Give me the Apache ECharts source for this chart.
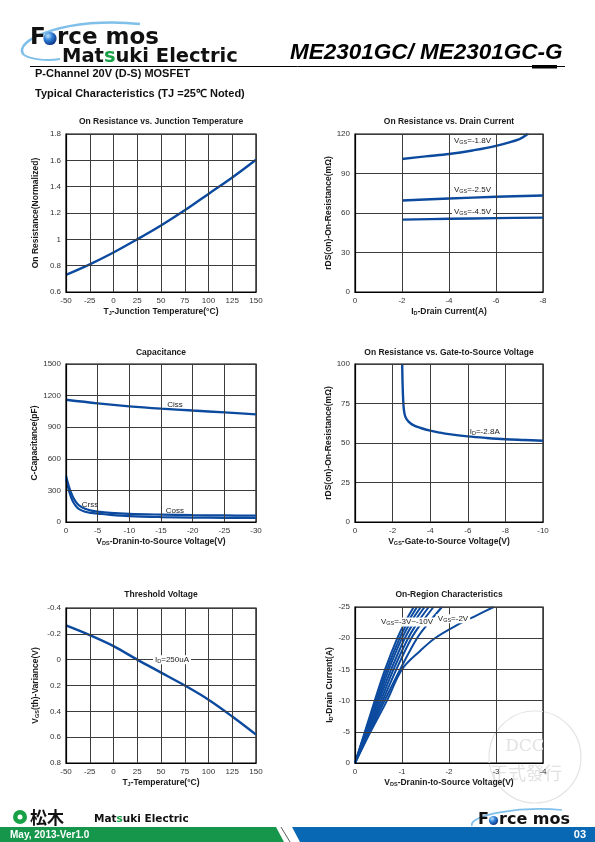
<!DOCTYPE html>
<html><head><meta charset="utf-8">
<script src="https://cdn.jsdelivr.net/npm/echarts@6/dist/echarts.min.js"></script>
<style>html,body{margin:0;padding:0;background:#fff}#c{width:595px;height:842px}</style>
</head><body><div id="c"></div><script>
// ---------- data ----------
// Chart 1: On Resistance vs Junction Temperature
const tjTemp = [-50, -25, 0, 25, 50, 75, 100, 125, 150];
const rdsNorm = [0.73, 0.81, 0.90, 1.0, 1.105, 1.22, 1.345, 1.47, 1.605];
// Chart 2: On Resistance vs Drain Current
const idVgs18 = [-2, -3, -4, -5, -6, -7, -7.35];
const rdsVgs18 = [101, 103, 104.8, 107.5, 111, 116.2, 120];
const idVgsOther = [-2, -4, -6, -8];
const rdsVgs25 = [69.5, 71, 72.3, 73.3];
const rdsVgs45 = [55, 55.6, 56.1, 56.5];
// Chart 3: Capacitance
const vdsCiss = [0, -5, -10, -15, -20, -25, -30];
const ciss = [1160, 1126, 1098, 1076, 1058, 1041, 1022];
const vdsLow = [0, -0.5, -1, -1.5, -2, -3, -4, -5, -7, -10, -15, -20, -25, -30];
const coss = [440, 330, 250, 195, 160, 125, 108, 98, 86, 77, 70, 65, 62, 60];
const crss = [410, 290, 205, 155, 125, 98, 86, 80, 68, 56, 47, 42, 40, 38];
// Chart 4: On Resistance vs Gate-to-Source Voltage
const vgsSweep = [-2.51, -2.53, -2.56, -2.6, -2.68, -2.85, -3.1, -3.5, -4, -4.5, -5, -6, -7, -8, -9, -10];
const rdsId28 = [100, 88, 78, 71, 66.5, 63.5, 61.3, 59.5, 57.8, 56.6, 55.6, 54.2, 53.2, 52.4, 51.9, 51.4];
// Chart 5: Threshold Voltage
const vthVar = [-0.265, -0.19, -0.105, 0.0, 0.1, 0.2, 0.31, 0.44, 0.58];
// Chart 6: On-Region Characteristics
const idLevels = [0, -5, -10, -15, -20, -22.5, -25];
const vdsC1 = [0, -0.21, -0.42, -0.64, -0.9, -1.06, -1.25];
const vdsC2 = [0, -0.22, -0.45, -0.68, -0.95, -1.12, -1.32];
const vdsC3 = [0, -0.23, -0.48, -0.72, -1.0, -1.18, -1.40];
const vdsC4 = [0, -0.25, -0.51, -0.77, -1.06, -1.25, -1.48];
const vdsC5 = [0, -0.27, -0.55, -0.82, -1.13, -1.33, -1.57];
const vdsC6 = [0, -0.29, -0.59, -0.88, -1.2, -1.42, -1.67];
const vdsVgs3 = [0, -0.31, -0.63, -0.96, -1.32, -1.57, -1.85];
const vdsVgs2 = [0, -0.33, -0.68, -1.0, -1.39, -1.7, -2.17, -2.6, -2.95];
const idVgs2 = [0, -5, -10, -15, -18, -20, -22.1, -23.7, -25];

// ---------- helpers ----------
const zip = (xs, ys) => xs.map((x, i) => [x, ys[i]]);
const BLUE = '#0b4a9e';
const FF = '"Liberation Sans", Arial, sans-serif';
const richName = {
  n: {fontSize: 8.5, fontWeight: 'bold', color: '#1a1a1a', fontFamily: FF},
  s: {fontSize: 5.5, fontWeight: 'bold', color: '#1a1a1a', fontFamily: FF, verticalAlign: 'bottom', padding: [3, 0, 0, 0]}
};
const richLab = {
  n: {fontSize: 8, color: '#222', fontFamily: FF},
  s: {fontSize: 5.5, color: '#222', fontFamily: FF, padding: [3, 0, 0, 0]}
};
const grids = [
  {left: 66, top: 134, width: 190, height: 158},
  {left: 355, top: 134, width: 188, height: 158},
  {left: 66, top: 364, width: 190, height: 158},
  {left: 355, top: 364, width: 188, height: 158},
  {left: 66, top: 608, width: 190, height: 155},
  {left: 355, top: 607, width: 188, height: 156}
].map(g => Object.assign({show: true, borderColor: '#000', borderWidth: 1.2, containLabel: false}, g));

function axis(gi, min, max, interval, inverse, name, gap) {
  return {
    type: 'value', gridIndex: gi, min, max, interval, inverse, z: 5,
    axisLine: {show: true, onZero: false, lineStyle: {color: '#000', width: 1.2}},
    axisTick: {show: false},
    axisLabel: {color: '#333', fontSize: 8, fontFamily: FF, margin: 5,
      formatter: v => String(Math.round(v * 1000) / 1000)},
    splitLine: {show: true, lineStyle: {color: '#3c3c3c', width: 1}},
    name, nameLocation: 'middle', nameGap: gap,
    nameTextStyle: {fontSize: 8.5, fontWeight: 'bold', color: '#1a1a1a', fontFamily: FF, rich: richName}
  };
}
const xAxes = [
  axis(0, -50, 150, 25, false, '{n|T}{s|J}{n|-Junction Temperature(°C)}', 15),
  axis(1, -8, 0, 2, true, '{n|I}{s|D}{n|-Drain Current(A)}', 15),
  axis(2, -30, 0, 5, true, '{n|V}{s|DS}{n|-Dranin-to-Source Voltage(V)}', 15),
  axis(3, -10, 0, 2, true, '{n|V}{s|GS}{n|-Gate-to-Source Voltage(V)}', 15),
  axis(4, -50, 150, 25, false, '{n|T}{s|J}{n|-Temperature(°C)}', 15),
  axis(5, -4, 0, 1, true, '{n|V}{s|DS}{n|-Dranin-to-Source Voltage(V)}', 15)
];
const yAxes = [
  axis(0, 0.6, 1.8, 0.2, false, '{n|On Resistance(Normalized)}', 26),
  axis(1, 0, 120, 30, false, '{n|rDS(on)-On-Resistance(mΩ)}', 21),
  axis(2, 0, 1500, 300, false, '{n|C-Capacitance(pF)}', 26),
  axis(3, 0, 100, 25, false, '{n|rDS(on)-On-Resistance(mΩ)}', 21),
  axis(4, -0.4, 0.8, 0.2, true, '{n|V}{s|GS}{n|(th)-Variance(V)}', 26),
  axis(5, -25, 0, 5, true, '{n|I}{s|D}{n|-Drain Current(A)}', 21)
];
function line(gi, data, width, marks) {
  const s = {
    type: 'line', xAxisIndex: gi, yAxisIndex: gi, data, smooth: 0.35, showSymbol: false,
    lineStyle: {color: BLUE, width: width || 2.4}, silent: true, animation: false, z: 3
  };
  if (marks) {
    s.markPoint = {
      symbol: 'circle', symbolSize: 0, silent: true, animation: false,
      data: marks.map(m => ({
        coord: m.c,
        label: {show: true, position: 'inside', formatter: m.t, rich: richLab,
          backgroundColor: m.bg ? '#fff' : 'transparent', padding: m.bg ? [0, 2] : 0}
      }))
    };
  }
  return s;
}
const series = [
  line(0, zip(tjTemp, rdsNorm), 2.4),
  line(1, zip(idVgs18, rdsVgs18), 2.4, [{c: [-5, 114.7], t: '{n|V}{s|GS}{n|=-1.8V}'}]),
  line(1, zip(idVgsOther, rdsVgs25), 2.4, [{c: [-5, 77.5], t: '{n|V}{s|GS}{n|=-2.5V}'}]),
  line(1, zip(idVgsOther, rdsVgs45), 2.4, [{c: [-5, 60.8], t: '{n|V}{s|GS}{n|=-4.5V}', bg: true}]),
  line(2, zip(vdsCiss, ciss), 2.4, [{c: [-17.2, 1111], t: '{n|Ciss}'}]),
  line(2, zip(vdsLow, coss), 2.2, [{c: [-17.2, 107], t: '{n|Coss}'}]),
  line(2, zip(vdsLow, crss), 2.2, [{c: [-3.8, 162], t: '{n|Crss}'}]),
  line(3, zip(vgsSweep, rdsId28), 2.4, [{c: [-6.9, 56.8], t: '{n|I}{s|D}{n|=-2.8A}'}]),
  line(4, zip(tjTemp, vthVar), 2.4, [{c: [61.6, 0], t: '{n|I}{s|D}{n|=250uA}', bg: true}]),
  line(5, zip(vdsC1, idLevels), 2),
  line(5, zip(vdsC2, idLevels), 2),
  line(5, zip(vdsC3, idLevels), 2),
  line(5, zip(vdsC4, idLevels), 2),
  line(5, zip(vdsC5, idLevels), 2),
  line(5, zip(vdsC6, idLevels), 2),
  line(5, zip(vdsVgs3, idLevels), 2),
  line(5, zip(vdsVgs2, idVgs2), 2, [
    {c: [-1.106, -22.6], t: '{n|V}{s|GS}{n|=-3V~-10V}', bg: true},
    {c: [-2.085, -23.1], t: '{n|V}{s|GS}{n|=-2V}', bg: true}
  ])
];
const titleDefs = [
  ['On Resistance vs. Junction Temperature', 161, 117],
  ['On Resistance vs. Drain Current', 449, 117],
  ['Capacitance', 161, 348],
  ['On Resistance vs. Gate-to-Source Voltage', 449, 348],
  ['Threshold Voltage', 161, 590],
  ['On-Region Characteristics', 449, 590]
];
const titles = titleDefs.map(t => ({
  text: t[0], left: t[1], top: t[2], textAlign: 'center', padding: 0,
  textStyle: {fontSize: 8.5, fontWeight: 'bold', color: '#1a1a1a', fontFamily: FF}
}));

const sphere = (cx, cy, r) => ({
  type: 'circle', shape: {cx, cy, r}, z: 10,
  style: {fill: new echarts.graphic.RadialGradient(0.35, 0.3, 0.75, [
    {offset: 0, color: '#bfe3ff'}, {offset: 0.45, color: '#2f7fd6'}, {offset: 1, color: '#0a2f80'}])}
});
const DV = '"DejaVu Sans", sans-serif';
const graphic = [
  // watermark stamp (beneath the axis labels)
  {type: 'circle', z: 0, shape: {cx: 535, cy: 757, r: 46}, style: {fill: null, stroke: '#e4e4e4', lineWidth: 1.2}},
  {type: 'text', x: 525, y: 747, z: 0, style: {text: 'DCC', font: '17px "DejaVu Serif", serif', fill: '#e2e2e2', align: 'center', verticalAlign: 'middle'}},
  {type: 'text', x: 526, y: 773, z: 0, style: {text: '正式發行', font: '18px "Noto Sans CJK TC", sans-serif', fill: '#e2e2e2', align: 'center', verticalAlign: 'middle'}},
  // header logo swoosh
  {type: 'bezierCurve', z: 5, shape: {x1: 24, y1: 55, cpx1: 10, cpy1: 40, cpx2: 70, cpy2: 16, x2: 140, y2: 24},
    style: {stroke: '#7fbfea', lineWidth: 2.5, fill: null}},
  {type: 'bezierCurve', z: 5, shape: {x1: 24, y1: 55, cpx1: 32, cpy1: 60, cpx2: 48, cpy2: 61, x2: 60, y2: 59},
    style: {stroke: '#7fbfea', lineWidth: 2, fill: null}},
  {type: 'text', x: 30, y: 38, z: 10, style: {text: 'F', font: 'bold 23px ' + DV, fill: '#111', verticalAlign: 'middle'}},
  sphere(50, 38.5, 6.6),
  {type: 'text', x: 57, y: 38, z: 10, style: {text: 'rce mos', font: 'bold 23px ' + DV, fill: '#111', verticalAlign: 'middle'}},
  {type: 'text', x: 62, y: 57, z: 10, style: {
    text: '{k|Mat}{g|s}{k|uki Electric}', verticalAlign: 'middle',
    rich: {k: {font: 'bold 19.5px ' + DV, fill: '#111'}, g: {font: 'bold 19.5px ' + DV, fill: '#17a045'}}}},
  // product title
  {type: 'text', x: 290, y: 53, z: 10, style: {text: 'ME2301GC/ ME2301GC-G', font: 'italic bold 22.5px ' + FF, fill: '#000', verticalAlign: 'middle'}},
  {type: 'line', z: 10, shape: {x1: 30, y1: 66.5, x2: 565, y2: 66.5}, style: {stroke: '#000', lineWidth: 1}},
  {type: 'rect', z: 10, shape: {x: 532, y: 65, width: 25, height: 3.5}, style: {fill: '#000'}},
  {type: 'text', x: 35, y: 74, z: 10, style: {text: 'P-Channel 20V (D-S) MOSFET', font: 'bold 11px ' + FF, fill: '#111', verticalAlign: 'middle'}},
  {type: 'text', x: 35, y: 94, z: 10, style: {text: 'Typical Characteristics (TJ =25℃ Noted)', font: 'bold 11px ' + FF, fill: '#111', verticalAlign: 'middle'}},
  // footer bars
  {type: 'polygon', z: 10, shape: {points: [[0, 827], [276, 827], [284, 842], [0, 842]]}, style: {fill: '#15964a'}},
  {type: 'line', z: 10, shape: {x1: 281, y1: 827, x2: 290, y2: 842}, style: {stroke: '#333', lineWidth: 0.8}},
  {type: 'polygon', z: 10, shape: {points: [[292, 827], [595, 827], [595, 842], [300, 842]]}, style: {fill: '#0868b4'}},
  {type: 'text', x: 10, y: 835, z: 11, style: {text: 'May, 2013-Ver1.0', font: 'bold 10px ' + FF, fill: '#fff', verticalAlign: 'middle'}},
  {type: 'text', x: 586, y: 835, z: 11, style: {text: '03', font: 'bold 11px ' + FF, fill: '#fff', align: 'right', verticalAlign: 'middle'}},
  // footer left logo
  {type: 'circle', z: 10, shape: {cx: 20, cy: 817, r: 7}, style: {fill: '#17a045'}},
  {type: 'circle', z: 11, shape: {cx: 20, cy: 817, r: 2.5}, style: {fill: '#fff'}},
  {type: 'text', x: 30, y: 818, z: 10, style: {text: '松木', font: 'bold 17px "Noto Sans CJK JP", sans-serif', fill: '#111', verticalAlign: 'middle'}},
  {type: 'text', x: 94, y: 819, z: 10, style: {
    text: '{k|Mat}{g|s}{k|uki Electric}', verticalAlign: 'middle',
    rich: {k: {font: 'bold 10.5px ' + DV, fill: '#111'}, g: {font: 'bold 10.5px ' + DV, fill: '#17a045'}}}},
  // footer right logo
  {type: 'bezierCurve', z: 10, shape: {x1: 472, y1: 826, cpx1: 468, cpy1: 815, cpx2: 520, cpy2: 806, x2: 562, y2: 810},
    style: {stroke: '#7fbfea', lineWidth: 1.6, fill: null}},
  {type: 'text', x: 478, y: 820, z: 11, style: {text: 'F', font: 'bold 16px ' + DV, fill: '#111', verticalAlign: 'middle'}},
  sphere(493.5, 820.5, 4.6),
  {type: 'text', x: 499, y: 820, z: 11, style: {text: 'rce mos', font: 'bold 16px ' + DV, fill: '#111', verticalAlign: 'middle'}}
];

const chart = echarts.init(document.getElementById('c'), null, {renderer: 'canvas'});
chart.setOption({
  animation: false,
  backgroundColor: '#fff',
  title: titles,
  grid: grids,
  xAxis: xAxes,
  yAxis: yAxes,
  series,
  graphic
});
</script></body></html>
